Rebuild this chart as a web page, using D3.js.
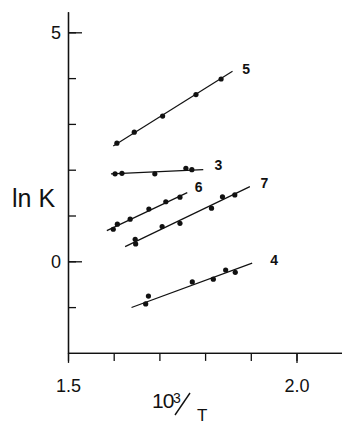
<!DOCTYPE html>
<html>
<head>
<meta charset="utf-8">
<script src="https://cdn.jsdelivr.net/npm/d3@7"></script>
<style>
  body { margin: 0; background: #fff; }
  svg { display: block; }
  text { font-family: "Liberation Sans", Arial, sans-serif; fill: #111; }
</style>
</head>
<body>
<div id="chart"></div>
<script>
// 10^3/T values and ln K values, one pair of arrays per compound
const series5X = [1.607, 1.645, 1.707, 1.780, 1.835];
const series5Y = [2.58, 2.82, 3.17, 3.64, 3.98];
const series5Fit = [[1.599, 2.52], [1.860, 4.15]];

const series3X = [1.603, 1.618, 1.690, 1.758, 1.771];
const series3Y = [1.91, 1.92, 1.91, 2.03, 2.00];
const series3Fit = [[1.594, 1.91], [1.796, 2.00]];

const series6X = [1.599, 1.608, 1.636, 1.677, 1.714, 1.745];
const series6Y = [0.70, 0.81, 0.92, 1.14, 1.30, 1.40];
const series6Fit = [[1.585, 0.67], [1.761, 1.50]];

const series7X = [1.647, 1.648, 1.706, 1.745, 1.814, 1.838, 1.865];
const series7Y = [0.48, 0.38, 0.76, 0.83, 1.16, 1.41, 1.45];
const series7Fit = [[1.625, 0.32], [1.898, 1.63]];

const series4X = [1.676, 1.670, 1.772, 1.818, 1.845, 1.866];
const series4Y = [-0.76, -0.93, -0.45, -0.39, -0.19, -0.24];
const series4Fit = [[1.639, -1.01], [1.903, -0.04]];

const seriesNames = ["5", "3", "6", "7", "4"];
const labelPos = [[1.890, 4.20], [1.829, 2.10], [1.786, 1.62], [1.930, 1.71], [1.951, 0.03]];

const xTicks = [1.5, 1.6, 1.7, 1.8, 1.9, 2.0, 2.1];
const xLabelTicks = [1.5, 2.0];
const yTicks = [-1, 0, 1, 2, 3, 4, 5];
const yLabelTicks = [0, 5];

const width = 342, height = 424;

const svg = d3.select("#chart").append("svg")
  .attr("width", width)
  .attr("height", height);

const x = d3.scaleLinear().domain([1.5, 2.1]).range([68, 342.2]);
const y = d3.scaleLinear().domain([-2, 5.45]).range([352.9, 11.7]);

// y axis: ticks point inward, labelled ticks are longer
svg.append("g")
  .attr("transform", "translate(" + x(1.5) + ",0)")
  .call(d3.axisLeft(y).tickValues(yTicks).tickSizeInner(-8).tickSizeOuter(0).tickFormat(""));
svg.append("g")
  .attr("class", "ylab")
  .attr("transform", "translate(" + x(1.5) + ",0)")
  .call(d3.axisLeft(y).tickValues(yLabelTicks).tickSizeInner(-14).tickSizeOuter(0).tickPadding(7)
    .tickFormat(d3.format("d")));

// x axis: ticks point down
svg.append("g")
  .attr("transform", "translate(0," + y(-2) + ")")
  .call(d3.axisBottom(x).tickValues(xTicks).tickSizeInner(8).tickSizeOuter(0).tickFormat(""));
svg.append("g")
  .attr("class", "xlab")
  .attr("transform", "translate(0," + y(-2) + ")")
  .call(d3.axisBottom(x).tickValues(xLabelTicks).tickSizeInner(10).tickSizeOuter(0).tickPadding(16)
    .tickFormat(d3.format(".1f")));

svg.selectAll(".domain, .tick line").attr("stroke", "#111").attr("stroke-width", 1.3);
svg.selectAll(".ylab text, .xlab text")
  .style("font-size", "18px")
  .style("font-family", "\"Liberation Sans\", Arial, sans-serif")
  .attr("fill", "#222");

// axis titles
svg.append("text")
  .attr("x", 12).attr("y", 207)
  .style("font-size", "25px")
  .text("ln K");

const xt = svg.append("g");
xt.append("text").attr("x", 152).attr("y", 408).style("font-size", "21px")
  .style("letter-spacing", "-1px").text("10");
xt.append("text").attr("x", 173).attr("y", 403).style("font-size", "14px").text("3");
xt.append("line").attr("x1", 175).attr("y1", 415).attr("x2", 190).attr("y2", 393)
  .attr("stroke", "#111").attr("stroke-width", 1.4);
xt.append("text").attr("x", 197).attr("y", 421).style("font-size", "17px").text("T");

const allSeries = [
  [series5X, series5Y, series5Fit],
  [series3X, series3Y, series3Fit],
  [series6X, series6Y, series6Fit],
  [series7X, series7Y, series7Fit],
  [series4X, series4Y, series4Fit]
];

const line = d3.line().x(d => x(d[0])).y(d => y(d[1]));

allSeries.forEach((s, i) => {
  const g = svg.append("g");
  g.append("path")
    .attr("d", line(s[2]))
    .attr("fill", "none")
    .attr("stroke", "#111")
    .attr("stroke-width", 1.2);
  g.selectAll("circle")
    .data(s[0].map((v, j) => [v, s[1][j]]))
    .enter()
    .append("circle")
    .attr("cx", d => x(d[0]))
    .attr("cy", d => y(d[1]))
    .attr("r", 2.6)
    .attr("fill", "#111");
  g.append("text")
    .attr("x", x(labelPos[i][0]))
    .attr("y", y(labelPos[i][1]))
    .attr("text-anchor", "middle")
    .attr("dy", "0.35em")
    .style("font-size", "14px")
    .style("font-weight", "bold")
    .text(seriesNames[i]);
});
</script>
</body>
</html>
